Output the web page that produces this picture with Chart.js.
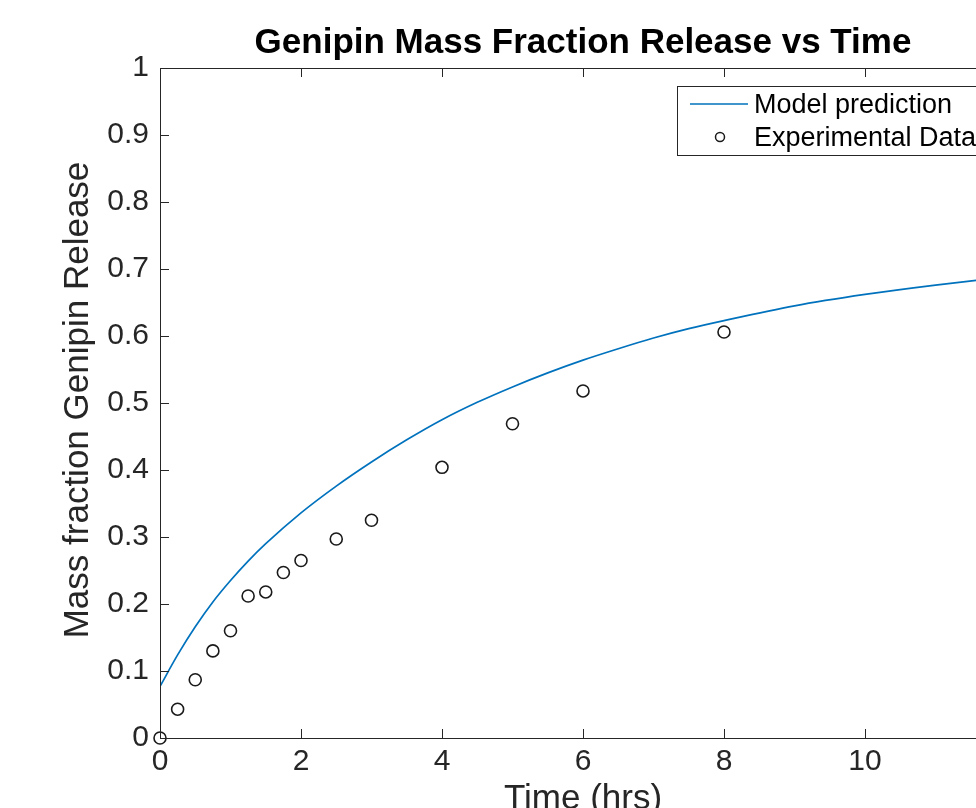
<!DOCTYPE html>
<html>
<head>
<meta charset="utf-8">
<title>Genipin Mass Fraction Release vs Time</title>
<script src="https://cdn.jsdelivr.net/npm/chart.js@4.4.1/dist/chart.umd.min.js"></script>
<style>
  html, body { margin: 0; padding: 0; background: #fff; overflow: hidden; }
  #wrap { width: 976px; height: 808px; overflow: hidden; }
</style>
</head>
<body>
<div id="wrap"><canvas id="chart" width="1060" height="808"></canvas></div>
<script>
// experimental points (hrs, mass fraction)
const expTime = [0, 0.25, 0.5, 0.75, 1, 1.25, 1.5, 1.75, 2, 2.5, 3, 4, 5, 6, 8];
const expRelease = [0, 0.043, 0.087, 0.130, 0.160, 0.212, 0.218, 0.247, 0.265, 0.297, 0.325, 0.404, 0.469, 0.518, 0.606];

// model curve
const modelTime = [0, 0.25, 0.5, 0.75, 1, 1.25, 1.5, 2, 2.5, 3, 3.5, 4, 4.5, 5, 5.5, 6, 6.5, 7, 7.5, 8, 9, 10, 11, 12];
const modelRelease = [0.077, 0.124, 0.166, 0.203, 0.235, 0.264, 0.290, 0.336, 0.376, 0.412, 0.445, 0.475, 0.501, 0.524, 0.545, 0.564, 0.581, 0.597, 0.611, 0.623, 0.645, 0.662, 0.676, 0.688];

const xTicks = [0, 2, 4, 6, 8, 10, 12];
const yTicks = [0, 0.1, 0.2, 0.3, 0.4, 0.5, 0.6, 0.7, 0.8, 0.9, 1];

const axisColor = '#262626';
const lineColor = '#0072BD';
const font = 'Liberation Sans, Arial, Helvetica, sans-serif';

// box, inward ticks, titles and legend, MATLAB style
const matlabAxes = {
  id: 'matlabAxes',
  afterDraw(chart) {
    const { ctx, chartArea: a, scales: { x, y } } = chart;
    ctx.save();
    ctx.strokeStyle = axisColor;
    ctx.lineWidth = 1;
    ctx.strokeRect(a.left + 0.5, a.top + 0.5, a.right - a.left, a.bottom - a.top);

    const tl = 9;
    ctx.beginPath();
    xTicks.forEach(v => {
      const px = Math.round(x.getPixelForValue(v)) + 0.5;
      ctx.moveTo(px, a.bottom); ctx.lineTo(px, a.bottom - tl);
      ctx.moveTo(px, a.top); ctx.lineTo(px, a.top + tl);
    });
    yTicks.forEach(v => {
      const py = Math.round(y.getPixelForValue(v)) + 0.5;
      ctx.moveTo(a.left, py); ctx.lineTo(a.left + tl, py);
      ctx.moveTo(a.right, py); ctx.lineTo(a.right - tl, py);
    });
    ctx.stroke();

    const cx = (a.left + a.right) / 2;
    ctx.fillStyle = '#000';
    ctx.textAlign = 'center';
    ctx.textBaseline = 'alphabetic';
    ctx.font = 'bold 35px ' + font;
    ctx.fillText('Genipin Mass Fraction Release vs Time', cx, 53);

    ctx.fillStyle = axisColor;
    ctx.font = '35px ' + font;
    ctx.fillText('Time (hrs)', cx, 809);

    ctx.save();
    ctx.translate(88, (a.top + a.bottom) / 2 - 3);
    ctx.rotate(-Math.PI / 2);
    ctx.fillText('Mass fraction Genipin Release', 0, 0);
    ctx.restore();

    // legend
    const lx = 677, ly = 86, lw = 323, lh = 69;
    ctx.fillStyle = '#fff';
    ctx.fillRect(lx, ly, lw, lh);
    ctx.strokeStyle = axisColor;
    ctx.strokeRect(lx + 0.5, ly + 0.5, lw, lh);

    ctx.strokeStyle = lineColor;
    ctx.lineWidth = 1.5;
    ctx.beginPath();
    ctx.moveTo(690, 104); ctx.lineTo(748, 104);
    ctx.stroke();

    ctx.strokeStyle = '#1a1a1a';
    ctx.beginPath();
    ctx.arc(720, 137, 4.5, 0, Math.PI * 2);
    ctx.stroke();

    ctx.fillStyle = '#000';
    ctx.textAlign = 'left';
    ctx.font = '27px ' + font;
    ctx.fillText(chart.data.datasets[0].label, 754, 113);
    ctx.fillText(chart.data.datasets[1].label, 754, 146);
    ctx.restore();
  }
};

new Chart(document.getElementById('chart'), {
  type: 'scatter',
  data: {
    datasets: [
      {
        label: 'Model prediction',
        data: modelTime.map((t, i) => ({ x: t, y: modelRelease[i] })),
        showLine: true,
        borderColor: lineColor,
        borderWidth: 1.7,
        pointRadius: 0,
        cubicInterpolationMode: 'monotone',
        fill: false,
      },
      {
        label: 'Experimental Data',
        data: expTime.map((t, i) => ({ x: t, y: expRelease[i] })),
        pointStyle: 'circle',
        pointRadius: 6,
        borderWidth: 1.6,
        borderColor: '#1a1a1a',
        backgroundColor: 'rgba(0,0,0,0)',
        clip: false,
      },
    ],
  },
  options: {
    responsive: false,
    devicePixelRatio: 1,
    animation: false,
    layout: { padding: { top: 68, right: 54, left: 0, bottom: 0 } },
    plugins: {
      legend: { display: false },
      title: { display: false },
      tooltip: { enabled: false },
    },
    scales: {
      x: {
        type: 'linear',
        min: 0,
        max: 12,
        afterBuildTicks: (scale) => { scale.ticks = xTicks.map(v => ({ value: v })); },
        afterFit: (scale) => { scale.height = 70; },
        grid: { display: false, drawTicks: false },
        border: { display: false },
        ticks: {
          padding: 6,
          color: axisColor,
          font: { family: font, size: 30 },
          callback: (v) => String(v),
          maxRotation: 0,
        },
      },
      y: {
        type: 'linear',
        min: 0,
        max: 1,
        afterBuildTicks: (scale) => { scale.ticks = yTicks.map(v => ({ value: v })); },
        afterFit: (scale) => { scale.width = 160; },
        grid: { display: false, drawTicks: false },
        border: { display: false },
        ticks: {
          padding: 11,
          color: axisColor,
          font: { family: font, size: 30 },
          callback: (v) => String(v),
        },
      },
    },
  },
  plugins: [matlabAxes],
});
</script>
</body>
</html>
